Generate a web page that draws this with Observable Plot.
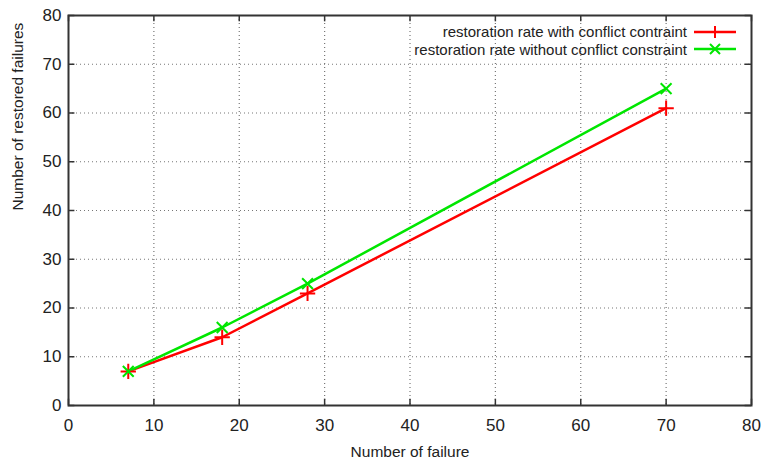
<!DOCTYPE html>
<html><head><meta charset="utf-8">
<script src="https://cdn.jsdelivr.net/npm/d3@7"></script>
<script src="https://cdn.jsdelivr.net/npm/@observablehq/plot@0.6"></script>
<style>
body{margin:0;background:#fff;}
#wrap{position:relative;width:763px;height:461px;font-family:"Liberation Sans",Arial,sans-serif;}
#legend{position:absolute;right:26px;top:23px;font-size:15px;color:#222;line-height:17.5px;}
#legend .row{display:flex;align-items:center;justify-content:flex-end;height:17.5px;}
#legend svg{margin-left:6px;}
</style>
</head><body>
<div id="wrap"><div id="chart"></div>
<div id="legend"></div></div>
<script>
const failures = [7, 18, 28, 70];
const withConstraint = [7, 14, 23, 61];
const withoutConstraint = [7, 16, 25, 65];
const seriesNames = ["restoration rate with conflict contraint", "restoration rate without conflict constraint"];
const seriesColors = ["#ff0000", "#00e600"];
const xTicks = [0, 10, 20, 30, 40, 50, 60, 70, 80];
const yTicks = [0, 10, 20, 30, 40, 50, 60, 70, 80];
const xLabel = "Number of failure";
const yLabel = "Number of restored failures";

const red = failures.map((x, i) => ({x, y: withConstraint[i]}));
const green = failures.map((x, i) => ({x, y: withoutConstraint[i]}));

const chart = Plot.plot({
  width: 763, height: 461,
  marginLeft: 68, marginRight: 12, marginTop: 15, marginBottom: 56,
  style: {fontFamily: "Liberation Sans, Arial, sans-serif", fontSize: "15px", color: "#222"},
  x: {domain: [0, 80]},
  y: {domain: [0, 80]},
  marks: [
    Plot.gridX(xTicks.slice(1, -1), {stroke: "#777", strokeOpacity: 1, strokeWidth: 1.2, strokeDasharray: "1,3"}),
    Plot.gridY(yTicks.slice(1, -1), {stroke: "#777", strokeOpacity: 1, strokeWidth: 1.2, strokeDasharray: "1,3"}),
    Plot.ruleX(xTicks, {x: d => d, y1: 0, y2: 1.3, stroke: "#333", strokeWidth: 1.5}),
    Plot.ruleX(xTicks, {x: d => d, y1: 80, y2: 78.7, stroke: "#333", strokeWidth: 1.5}),
    Plot.ruleY(yTicks, {y: d => d, x1: 0, x2: 0.75, stroke: "#333", strokeWidth: 1.5}),
    Plot.ruleY(yTicks, {y: d => d, x1: 80, x2: 79.25, stroke: "#333", strokeWidth: 1.5}),
    Plot.frame({stroke: "#333", strokeWidth: 2}),
    Plot.axisX(xTicks, {tickSize: 0, tickPadding: 13, fontSize: 17, label: null}),
    Plot.axisY(yTicks, {tickSize: 0, tickPadding: 7, fontSize: 17, label: null}),
    Plot.text([xLabel], {text: d => d, frameAnchor: "bottom", dy: 47, lineAnchor: "middle", fontSize: 15.5, fill: "#222"}),
    Plot.text([yLabel], {text: d => d, frameAnchor: "left", dx: -50, rotate: -90, lineAnchor: "middle", fontSize: 15.5, fill: "#222"}),
    Plot.line(red, {x: "x", y: "y", stroke: seriesColors[0], strokeWidth: 2.5}),
    Plot.line(green, {x: "x", y: "y", stroke: seriesColors[1], strokeWidth: 2.5}),
    Plot.dot(red, {x: "x", y: "y", symbol: "plus", stroke: seriesColors[0], strokeWidth: 2, r: 5}),
    Plot.dot(green, {x: "x", y: "y", symbol: "times", stroke: seriesColors[1], strokeWidth: 2, r: 5})
  ]
});
document.getElementById("chart").appendChild(chart);

const leg = document.getElementById("legend");
const syms = ["M-6,0H6M0,-6V6", "M-5,-5L5,5M-5,5L5,-5"];
seriesNames.forEach((name, i) => {
  const row = document.createElement("div");
  row.className = "row";
  row.innerHTML = `<span>${name}</span><svg width="44" height="14" viewBox="-22 -7 44 14"><line x1="-21" x2="21" y1="0" y2="0" stroke="${seriesColors[i]}" stroke-width="2.5"/><path d="${syms[i]}" stroke="${seriesColors[i]}" stroke-width="2" fill="none"/></svg>`;
  leg.appendChild(row);
});
</script>
</body></html>
